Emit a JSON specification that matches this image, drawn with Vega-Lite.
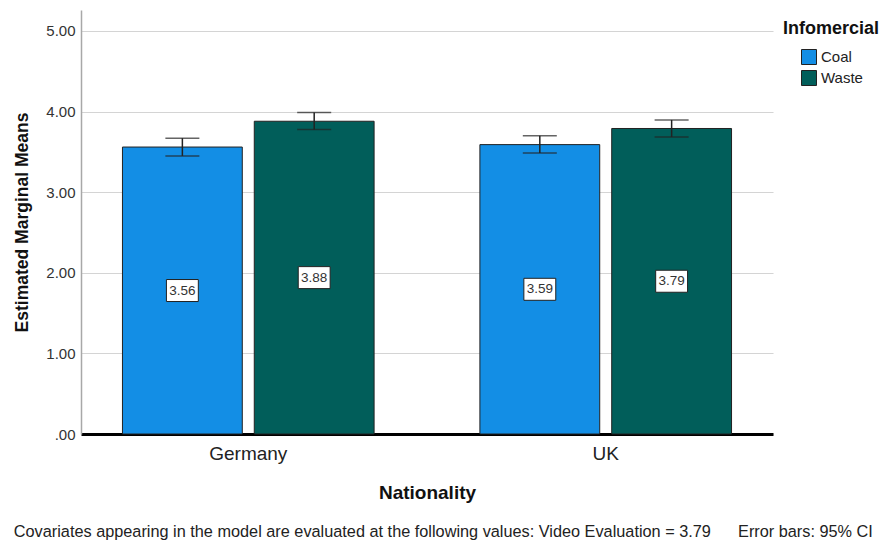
{
  "$schema": "https://vega.github.io/schema/vega-lite/v6.json",
  "width": 692,
  "height": 424,
  "padding": {"left": 13, "top": 10, "right": 0, "bottom": 0},
  "background": "white",
  "config": {
    "font": "Liberation Sans",
    "view": {"stroke": null},
    "title": {"fontSize": 16.3, "fontWeight": "normal", "color": "#222", "font": "Liberation Sans"}
  },
  "title": {
    "text": "Covariates appearing in the model are evaluated at the following values: Video Evaluation = 3.79\u00a0\u00a0\u00a0\u00a0\u00a0\u00a0Error bars: 95% CI",
    "orient": "bottom",
    "anchor": "start",
    "frame": "bounds",
    "offset": 22
  },
  "data": {
    "values": [
      {"Nationality": "Germany", "Infomercial": "Coal", "mean": 3.56, "lo": 3.45, "hi": 3.67},
      {"Nationality": "Germany", "Infomercial": "Waste", "mean": 3.88, "lo": 3.776, "hi": 3.987},
      {"Nationality": "UK", "Infomercial": "Coal", "mean": 3.59, "lo": 3.486, "hi": 3.70},
      {"Nationality": "UK", "Infomercial": "Waste", "mean": 3.79, "lo": 3.685, "hi": 3.896}
    ]
  },
  "transform": [{"calculate": "datum.mean / 2", "as": "mid"}],
  "encoding": {
    "x": {
      "field": "Nationality",
      "type": "nominal",
      "scale": {"paddingInner": 0.296, "paddingOuter": 0.116},
      "axis": {
        "title": "Nationality",
        "titleFontSize": 19,
        "titleFontWeight": "bold",
        "titleColor": "#111",
        "titlePadding": 20,
        "labelAngle": 0,
        "labelFontSize": 19,
        "labelColor": "#222",
        "labelPadding": 10,
        "ticks": false,
        "domainColor": "#000",
        "domainWidth": 3,
        "grid": false
      }
    },
    "xOffset": {
      "field": "Infomercial",
      "type": "nominal",
      "sort": ["Coal", "Waste"],
      "scale": {"paddingInner": 0.091, "paddingOuter": 0}
    }
  },
  "layer": [
    {
      "mark": {"type": "bar", "stroke": "#222", "strokeWidth": 1},
      "encoding": {
        "y": {
          "field": "mean",
          "type": "quantitative",
          "scale": {"domain": [0, 5.26], "nice": false},
          "axis": {
            "title": "Estimated Marginal Means",
            "titleFontSize": 17.5,
            "titleFontWeight": "bold",
            "titleColor": "#111",
            "titlePadding": 14,
            "values": [0, 1, 2, 3, 4, 5],
            "labelExpr": "datum.value == 0 ? '.00' : format(datum.value, '.2f')",
            "labelFontSize": 15,
            "labelColor": "#333",
            "labelPadding": 6,
            "ticks": false,
            "domainColor": "#a8a8a8",
            "domainWidth": 1.5,
            "gridColor": "#d4d4d4",
            "gridWidth": 1.2
          }
        },
        "color": {
          "field": "Infomercial",
          "type": "nominal",
          "sort": ["Coal", "Waste"],
          "scale": {"domain": ["Coal", "Waste"], "range": ["#138ee5", "#015e5a"]},
          "legend": {
            "title": "Infomercial",
            "orient": "right",
            "offset": 0,
            "padding": 10,
            "titleFontSize": 18,
            "titleFontWeight": "bold",
            "titleColor": "#111",
            "titlePadding": 11,
            "symbolType": "square",
            "symbolSize": 225,
            "symbolStrokeColor": "#222",
            "symbolStrokeWidth": 1,
            "symbolOpacity": 1,
            "symbolOffset": 18,
            "labelFontSize": 15,
            "labelColor": "#222",
            "labelOffset": 4,
            "rowPadding": 1
          }
        }
      }
    },
    {
      "mark": {"type": "rule", "color": "#222", "strokeWidth": 1.5},
      "encoding": {
        "y": {"field": "lo", "type": "quantitative"},
        "y2": {"field": "hi"}
      }
    },
    {
      "mark": {"type": "tick", "color": "#222", "thickness": 1.5, "size": 34},
      "encoding": {"y": {"field": "lo", "type": "quantitative"}}
    },
    {
      "mark": {"type": "tick", "color": "#222", "thickness": 1.5, "size": 34},
      "encoding": {"y": {"field": "hi", "type": "quantitative"}}
    },
    {
      "mark": {"type": "point", "shape": "M-1.45,-1H1.45V1H-1.45Z", "size": 484, "filled": true, "fill": "white", "stroke": "#222", "strokeWidth": 1, "opacity": 1},
      "encoding": {"y": {"field": "mid", "type": "quantitative"}}
    },
    {
      "mark": {"type": "text", "fontSize": 13.5, "color": "#333"},
      "encoding": {
        "y": {"field": "mid", "type": "quantitative"},
        "text": {"field": "mean", "type": "quantitative", "format": ".2f"}
      }
    }
  ]
}
